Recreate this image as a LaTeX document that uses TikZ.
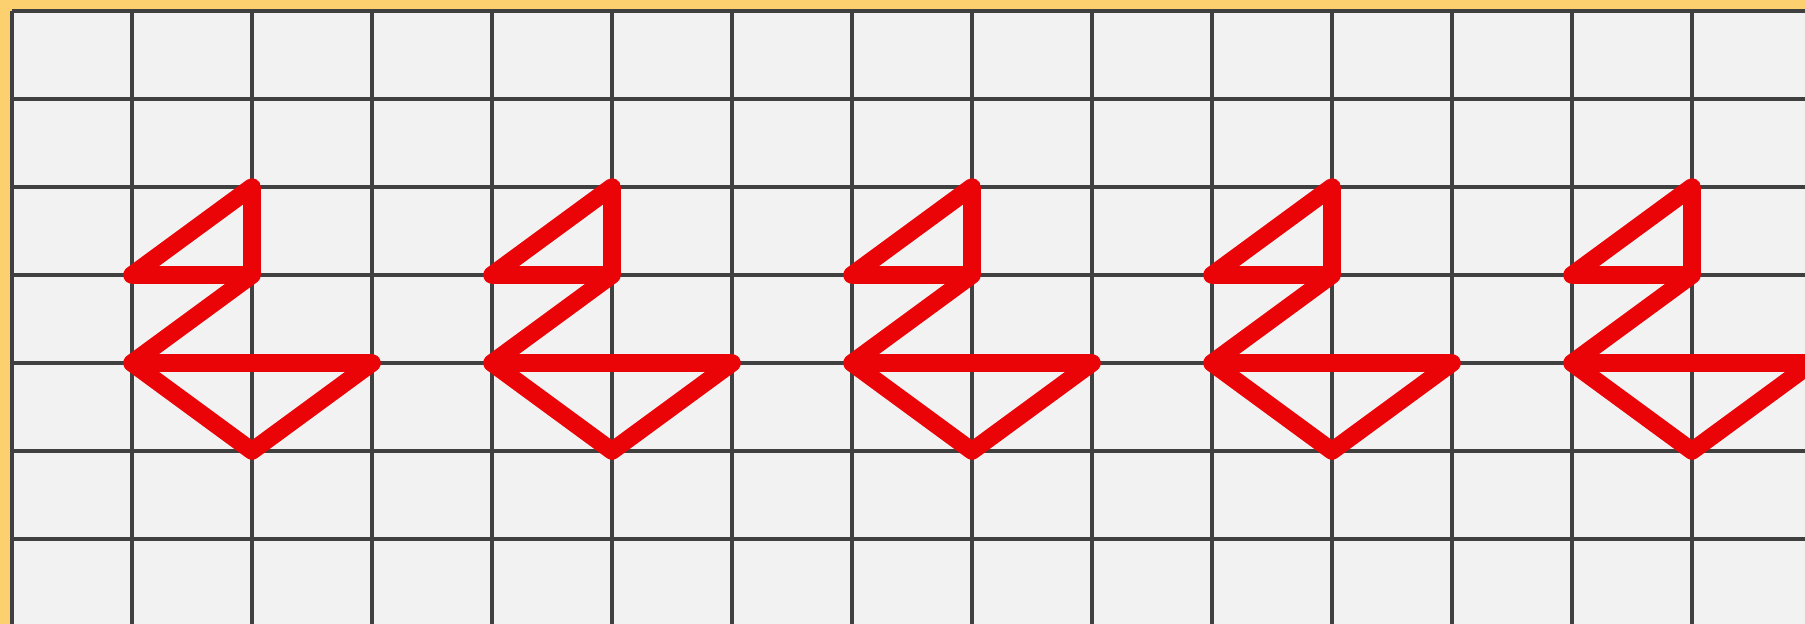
\documentclass[tikz,border=0pt]{standalone}
\definecolor{gold}{RGB}{252,208,110}
\definecolor{paper}{RGB}{242,242,242}
\definecolor{pen}{RGB}{234,4,8}
\begin{document}
\begin{tikzpicture}[x=24mm,y=17.6mm,line width=2.4pt]
 \useasboundingbox (-0.1,0.125) rectangle (14.9417,-6.9659);
 \fill[gold] (-0.1,0.125) rectangle (14.9417,-6.9659);
 \fill[paper] (0,0) rectangle (14.9417,-6.9659);
 % grid
 \foreach \c in {0,...,14}{\draw[black!75] (\c,0) -- (\c,-6.9659);}
 \foreach \r in {0,...,6}{\draw[black!75] (0,-\r) -- (14.9417,-\r);}
 % red figures, one every three columns
 \foreach \s in {1,4,7,10,13}{\draw[pen,line width=10pt,line join=round,line cap=round] (\s,-3) -- (\s+1,-2) -- (\s+1,-3) -- cycle (\s+1,-3) -- (\s,-4) -- (\s+2,-4) -- (\s+1,-5) -- (\s,-4);}
\end{tikzpicture}
\end{document}
